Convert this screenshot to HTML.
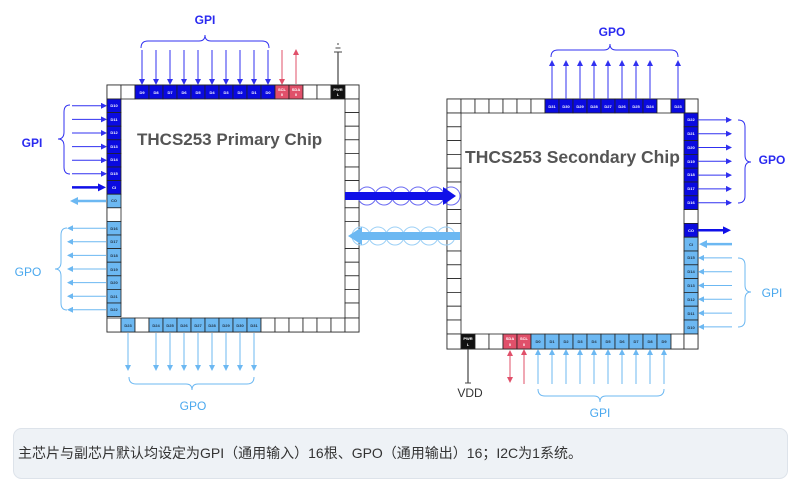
<!DOCTYPE html>
<html><head><meta charset="utf-8"><style>
html,body{margin:0;padding:0;background:#fff;width:800px;height:488px;overflow:hidden}
svg{display:block}
.c{stroke:#222;stroke-width:0.8}
.t{font-family:"Liberation Sans",sans-serif;font-size:4px;fill:#fff;text-anchor:middle;font-weight:bold}
.tk{font-family:"Liberation Sans",sans-serif;font-size:4px;fill:#234;text-anchor:middle;font-weight:bold}
.lbl{font-family:"Liberation Sans",sans-serif;font-size:12px;text-anchor:middle}
</style></head><body>
<svg width="800" height="488" viewBox="0 0 800 488" xmlns="http://www.w3.org/2000/svg">
<defs>
<marker id="ab" markerWidth="6" markerHeight="6" refX="5" refY="3" orient="auto" markerUnits="userSpaceOnUse"><path d="M0,0 L6,3 L0,6z" fill="#3030f0"/></marker>
<marker id="al" markerWidth="6" markerHeight="6" refX="5" refY="3" orient="auto" markerUnits="userSpaceOnUse"><path d="M0,0 L6,3 L0,6z" fill="#6cb8f2"/></marker>
<marker id="ar" markerWidth="6" markerHeight="6" refX="5" refY="3" orient="auto" markerUnits="userSpaceOnUse"><path d="M0,0 L6,3 L0,6z" fill="#e0506a"/></marker>
<marker id="abB" markerWidth="8" markerHeight="8" refX="4" refY="4" orient="auto" markerUnits="userSpaceOnUse"><path d="M0,0 L8,4 L0,8z" fill="#1010e8"/></marker>
<marker id="alB" markerWidth="8" markerHeight="8" refX="4" refY="4" orient="auto" markerUnits="userSpaceOnUse"><path d="M0,0 L8,4 L0,8z" fill="#6cb8f2"/></marker>
</defs>

<!-- ============ PRIMARY CHIP ============ -->
<rect x="107" y="85" width="252" height="247" fill="#fff" stroke="#444" stroke-width="1"/>
<!-- top row -->
<g class="c">
<rect x="107" y="85" width="14" height="14" fill="#fff"/><rect x="121" y="85" width="14" height="14" fill="#fff"/>
<rect x="135" y="85" width="14" height="14" fill="#0a0ae0"/><rect x="149" y="85" width="14" height="14" fill="#0a0ae0"/>
<rect x="163" y="85" width="14" height="14" fill="#0a0ae0"/><rect x="177" y="85" width="14" height="14" fill="#0a0ae0"/>
<rect x="191" y="85" width="14" height="14" fill="#0a0ae0"/><rect x="205" y="85" width="14" height="14" fill="#0a0ae0"/>
<rect x="219" y="85" width="14" height="14" fill="#0a0ae0"/><rect x="233" y="85" width="14" height="14" fill="#0a0ae0"/>
<rect x="247" y="85" width="14" height="14" fill="#0a0ae0"/><rect x="261" y="85" width="14" height="14" fill="#0a0ae0"/>
<rect x="275" y="85" width="14" height="14" fill="#e0506a"/><rect x="289" y="85" width="14" height="14" fill="#e0506a"/>
<rect x="303" y="85" width="14" height="14" fill="#fff"/><rect x="317" y="85" width="14" height="14" fill="#fff"/>
<rect x="331" y="85" width="14" height="14" fill="#111"/><rect x="345" y="85" width="14" height="14" fill="#fff"/>
</g>
<g class="t">
<text x="142" y="94">D9</text><text x="156" y="94">D8</text><text x="170" y="94">D7</text><text x="184" y="94">D6</text><text x="198" y="94">D5</text><text x="212" y="94">D4</text><text x="226" y="94">D3</text><text x="240" y="94">D2</text><text x="254" y="94">D1</text><text x="268" y="94">D0</text>
<text x="282" y="91">SCL</text><text x="282" y="96">0</text><text x="296" y="91">SDA</text><text x="296" y="96">0</text><text x="338" y="91">PWR</text><text x="338" y="96">L</text>
</g>
<!-- left column -->
<g class="c">
<rect x="107" y="99" width="14" height="13.6" fill="#0a0ae0"/><rect x="107" y="112.6" width="14" height="13.6" fill="#0a0ae0"/>
<rect x="107" y="126.2" width="14" height="13.6" fill="#0a0ae0"/><rect x="107" y="139.8" width="14" height="13.6" fill="#0a0ae0"/>
<rect x="107" y="153.4" width="14" height="13.6" fill="#0a0ae0"/><rect x="107" y="167" width="14" height="13.6" fill="#0a0ae0"/>
<rect x="107" y="180.6" width="14" height="13.6" fill="#0a0ae0"/><rect x="107" y="194.2" width="14" height="13.6" fill="#6cb8f2"/>
<rect x="107" y="207.8" width="14" height="13.6" fill="#fff"/>
<rect x="107" y="221.4" width="14" height="13.6" fill="#6cb8f2"/><rect x="107" y="235" width="14" height="13.6" fill="#6cb8f2"/>
<rect x="107" y="248.6" width="14" height="13.6" fill="#6cb8f2"/><rect x="107" y="262.2" width="14" height="13.6" fill="#6cb8f2"/>
<rect x="107" y="275.8" width="14" height="13.6" fill="#6cb8f2"/><rect x="107" y="289.4" width="14" height="13.6" fill="#6cb8f2"/>
<rect x="107" y="303" width="14" height="13.6" fill="#6cb8f2"/>
</g>
<g class="t">
<text x="114" y="107">D10</text><text x="114" y="121">D11</text><text x="114" y="134">D12</text><text x="114" y="148">D13</text><text x="114" y="161">D14</text><text x="114" y="175">D15</text><text x="114" y="189">CI</text>
</g>
<g class="tk">
<text x="114" y="202">CO</text><text x="114" y="230">D16</text><text x="114" y="243">D17</text><text x="114" y="257">D18</text><text x="114" y="271">D19</text><text x="114" y="284">D20</text><text x="114" y="298">D21</text><text x="114" y="311">D22</text>
</g>
<!-- right column -->
<g class="c" fill="#fff">
<rect x="345" y="99" width="14" height="13.6"/><rect x="345" y="112.6" width="14" height="13.6"/><rect x="345" y="126.2" width="14" height="13.6"/><rect x="345" y="139.8" width="14" height="13.6"/><rect x="345" y="153.4" width="14" height="13.6"/><rect x="345" y="167" width="14" height="13.6"/><rect x="345" y="180.6" width="14" height="27.2"/><rect x="345" y="207.8" width="14" height="13.6"/><rect x="345" y="221.4" width="14" height="27.2"/><rect x="345" y="248.6" width="14" height="13.6"/><rect x="345" y="262.2" width="14" height="13.6"/><rect x="345" y="275.8" width="14" height="13.6"/><rect x="345" y="289.4" width="14" height="13.6"/><rect x="345" y="303" width="14" height="15"/>
</g>
<!-- bottom row -->
<g class="c">
<rect x="107" y="318" width="14" height="14" fill="#fff"/><rect x="121" y="318" width="14" height="14" fill="#6cb8f2"/><rect x="135" y="318" width="14" height="14" fill="#fff"/>
<rect x="149" y="318" width="14" height="14" fill="#6cb8f2"/><rect x="163" y="318" width="14" height="14" fill="#6cb8f2"/><rect x="177" y="318" width="14" height="14" fill="#6cb8f2"/><rect x="191" y="318" width="14" height="14" fill="#6cb8f2"/><rect x="205" y="318" width="14" height="14" fill="#6cb8f2"/><rect x="219" y="318" width="14" height="14" fill="#6cb8f2"/><rect x="233" y="318" width="14" height="14" fill="#6cb8f2"/><rect x="247" y="318" width="14" height="14" fill="#6cb8f2"/>
<rect x="261" y="318" width="14" height="14" fill="#fff"/><rect x="275" y="318" width="14" height="14" fill="#fff"/><rect x="289" y="318" width="14" height="14" fill="#fff"/><rect x="303" y="318" width="14" height="14" fill="#fff"/><rect x="317" y="318" width="14" height="14" fill="#fff"/><rect x="331" y="318" width="14" height="14" fill="#fff"/><rect x="345" y="318" width="14" height="14" fill="#fff"/>
</g>
<g class="tk">
<text x="128" y="327">D23</text><text x="156" y="327">D24</text><text x="170" y="327">D25</text><text x="184" y="327">D26</text><text x="198" y="327">D27</text><text x="212" y="327">D28</text><text x="226" y="327">D29</text><text x="240" y="327">D30</text><text x="254" y="327">D31</text>
</g>
<text x="137" y="145" font-family="Liberation Sans, sans-serif" font-weight="bold" font-size="17" fill="#555">THCS253 Primary Chip</text>

<!-- primary top arrows -->
<g stroke="#3030f0" stroke-width="1" marker-end="url(#ab)">
<line x1="142" y1="50" x2="142" y2="84"/><line x1="156" y1="50" x2="156" y2="84"/><line x1="170" y1="50" x2="170" y2="84"/><line x1="184" y1="50" x2="184" y2="84"/><line x1="198" y1="50" x2="198" y2="84"/><line x1="212" y1="50" x2="212" y2="84"/><line x1="226" y1="50" x2="226" y2="84"/><line x1="240" y1="50" x2="240" y2="84"/><line x1="254" y1="50" x2="254" y2="84"/><line x1="268" y1="50" x2="268" y2="84"/>
</g>
<path d="M141,48 q0,-7 7,-7 H199 q6,0 6,-6 q0,6 6,6 H262 q7,0 7,7" fill="none" stroke="#3030f0" stroke-width="1"/>
<text x="205" y="24" class="lbl" fill="#2a2af0" font-weight="bold" font-size="11">GPI</text>
<line x1="282" y1="50" x2="282" y2="84" stroke="#e0506a" marker-end="url(#ar)"/>
<line x1="296" y1="84" x2="296" y2="50" stroke="#e0506a" marker-end="url(#ar)"/>
<line x1="338" y1="52" x2="338" y2="85" stroke="#444" stroke-width="1.2"/>
<line x1="334" y1="52" x2="342" y2="52" stroke="#444"/><line x1="335.5" y1="48" x2="340.5" y2="48" stroke="#444"/><line x1="337" y1="44" x2="339" y2="44" stroke="#444"/>

<!-- primary left arrows -->
<g stroke="#3030f0" stroke-width="1" marker-end="url(#ab)">
<line x1="72" y1="105.8" x2="106" y2="105.8"/><line x1="72" y1="119.4" x2="106" y2="119.4"/><line x1="72" y1="133" x2="106" y2="133"/><line x1="72" y1="146.6" x2="106" y2="146.6"/><line x1="72" y1="160.2" x2="106" y2="160.2"/><line x1="72" y1="173.8" x2="106" y2="173.8"/>
</g>
<line x1="72" y1="187.4" x2="102" y2="187.4" stroke="#1010e8" stroke-width="2.5" marker-end="url(#abB)"/>
<line x1="106" y1="201" x2="74" y2="201" stroke="#6cb8f2" stroke-width="2.5" marker-end="url(#alB)"/>
<path d="M70,105 q-6,0 -6,7 V132 q0,7 -6,7 q6,0 6,7 V167 q0,7 6,7" fill="none" stroke="#3030f0"/>
<text x="32" y="147" class="lbl" fill="#2a2af0" font-weight="bold" font-size="11">GPI</text>
<g stroke="#6cb8f2" stroke-width="1" marker-end="url(#al)">
<line x1="106" y1="228.2" x2="68" y2="228.2"/><line x1="106" y1="241.8" x2="68" y2="241.8"/><line x1="106" y1="255.4" x2="68" y2="255.4"/><line x1="106" y1="269" x2="68" y2="269"/><line x1="106" y1="282.6" x2="68" y2="282.6"/><line x1="106" y1="296.2" x2="68" y2="296.2"/><line x1="106" y1="309.8" x2="68" y2="309.8"/>
</g>
<path d="M67,228 q-6,0 -6,7 V262 q0,7 -6,7 q6,0 6,7 V303 q0,7 6,7" fill="none" stroke="#6cb8f2"/>
<text x="28" y="276" class="lbl" fill="#4aa8ee" font-size="11">GPO</text>

<!-- primary bottom arrows -->
<g stroke="#6cb8f2" stroke-width="1" marker-end="url(#al)">
<line x1="128" y1="333" x2="128" y2="370"/><line x1="156" y1="333" x2="156" y2="370"/><line x1="170" y1="333" x2="170" y2="370"/><line x1="184" y1="333" x2="184" y2="370"/><line x1="198" y1="333" x2="198" y2="370"/><line x1="212" y1="333" x2="212" y2="370"/><line x1="226" y1="333" x2="226" y2="370"/><line x1="240" y1="333" x2="240" y2="370"/><line x1="254" y1="333" x2="254" y2="370"/>
</g>
<path d="M129,377 q0,7 7,7 H186 q6,0 6,6 q0,-6 6,-6 H247 q7,0 7,-7" fill="none" stroke="#6cb8f2"/>
<text x="193" y="410" class="lbl" fill="#4aa8ee" font-size="11">GPO</text>

<!-- ============ SECONDARY CHIP ============ -->
<rect x="447" y="99" width="251" height="250" fill="#fff" stroke="#444" stroke-width="1"/>
<g class="c">
<rect x="447" y="99" width="14" height="14" fill="#fff"/><rect x="461" y="99" width="14" height="14" fill="#fff"/><rect x="475" y="99" width="14" height="14" fill="#fff"/><rect x="489" y="99" width="14" height="14" fill="#fff"/><rect x="503" y="99" width="14" height="14" fill="#fff"/><rect x="517" y="99" width="14" height="14" fill="#fff"/><rect x="531" y="99" width="14" height="14" fill="#fff"/>
<rect x="545" y="99" width="14" height="14" fill="#0a0ae0"/><rect x="559" y="99" width="14" height="14" fill="#0a0ae0"/><rect x="573" y="99" width="14" height="14" fill="#0a0ae0"/><rect x="587" y="99" width="14" height="14" fill="#0a0ae0"/><rect x="601" y="99" width="14" height="14" fill="#0a0ae0"/><rect x="615" y="99" width="14" height="14" fill="#0a0ae0"/><rect x="629" y="99" width="14" height="14" fill="#0a0ae0"/><rect x="643" y="99" width="14" height="14" fill="#0a0ae0"/>
<rect x="657" y="99" width="14" height="14" fill="#fff"/><rect x="671" y="99" width="14" height="14" fill="#0a0ae0"/><rect x="685" y="99" width="13" height="14" fill="#fff"/>
</g>
<g class="t">
<text x="552" y="108">D31</text><text x="566" y="108">D30</text><text x="580" y="108">D29</text><text x="594" y="108">D28</text><text x="608" y="108">D27</text><text x="622" y="108">D26</text><text x="636" y="108">D25</text><text x="650" y="108">D24</text><text x="678" y="108">D23</text>
</g>
<!-- right column -->
<g class="c">
<rect x="684" y="113" width="14" height="13.8" fill="#0a0ae0"/><rect x="684" y="126.8" width="14" height="13.8" fill="#0a0ae0"/><rect x="684" y="140.6" width="14" height="13.8" fill="#0a0ae0"/><rect x="684" y="154.4" width="14" height="13.8" fill="#0a0ae0"/><rect x="684" y="168.2" width="14" height="13.8" fill="#0a0ae0"/><rect x="684" y="182" width="14" height="13.8" fill="#0a0ae0"/><rect x="684" y="195.8" width="14" height="13.8" fill="#0a0ae0"/>
<rect x="684" y="209.6" width="14" height="13.8" fill="#fff"/>
<rect x="684" y="223.4" width="14" height="13.8" fill="#0a0ae0"/>
<rect x="684" y="237.2" width="14" height="13.8" fill="#6cb8f2"/><rect x="684" y="251" width="14" height="13.8" fill="#6cb8f2"/><rect x="684" y="264.8" width="14" height="13.8" fill="#6cb8f2"/><rect x="684" y="278.6" width="14" height="13.8" fill="#6cb8f2"/><rect x="684" y="292.4" width="14" height="13.8" fill="#6cb8f2"/><rect x="684" y="306.2" width="14" height="13.8" fill="#6cb8f2"/><rect x="684" y="320" width="14" height="14" fill="#6cb8f2"/>
</g>
<g class="t">
<text x="691" y="121">D22</text><text x="691" y="135">D21</text><text x="691" y="149">D20</text><text x="691" y="163">D19</text><text x="691" y="176">D18</text><text x="691" y="190">D17</text><text x="691" y="204">D16</text><text x="691" y="232">CO</text>
</g>
<g class="tk">
<text x="691" y="246">CI</text><text x="691" y="259">D15</text><text x="691" y="273">D14</text><text x="691" y="287">D13</text><text x="691" y="301">D12</text><text x="691" y="315">D11</text><text x="691" y="329">D10</text>
</g>
<!-- left column -->
<g class="c" fill="#fff">
<rect x="447" y="113" width="14" height="13.8"/><rect x="447" y="126.8" width="14" height="13.8"/><rect x="447" y="140.6" width="14" height="13.8"/><rect x="447" y="154.4" width="14" height="13.8"/><rect x="447" y="168.2" width="14" height="13.8"/><rect x="447" y="182" width="14" height="27.6"/><rect x="447" y="209.6" width="14" height="13.8"/><rect x="447" y="223.4" width="14" height="27.6"/><rect x="447" y="251" width="14" height="13.8"/><rect x="447" y="264.8" width="14" height="13.8"/><rect x="447" y="278.6" width="14" height="13.8"/><rect x="447" y="292.4" width="14" height="13.8"/><rect x="447" y="306.2" width="14" height="13.8"/><rect x="447" y="320" width="14" height="14"/>
</g>
<!-- bottom row -->
<g class="c">
<rect x="447" y="334" width="14" height="15" fill="#fff"/><rect x="461" y="334" width="14" height="15" fill="#111"/><rect x="475" y="334" width="14" height="15" fill="#fff"/><rect x="489" y="334" width="14" height="15" fill="#fff"/>
<rect x="503" y="334" width="14" height="15" fill="#e0506a"/><rect x="517" y="334" width="14" height="15" fill="#e0506a"/>
<rect x="531" y="334" width="14" height="15" fill="#6cb8f2"/><rect x="545" y="334" width="14" height="15" fill="#6cb8f2"/><rect x="559" y="334" width="14" height="15" fill="#6cb8f2"/><rect x="573" y="334" width="14" height="15" fill="#6cb8f2"/><rect x="587" y="334" width="14" height="15" fill="#6cb8f2"/><rect x="601" y="334" width="14" height="15" fill="#6cb8f2"/><rect x="615" y="334" width="14" height="15" fill="#6cb8f2"/><rect x="629" y="334" width="14" height="15" fill="#6cb8f2"/><rect x="643" y="334" width="14" height="15" fill="#6cb8f2"/><rect x="657" y="334" width="14" height="15" fill="#6cb8f2"/>
<rect x="671" y="334" width="13" height="15" fill="#fff"/><rect x="684" y="334" width="14" height="15" fill="#fff"/>
</g>
<g class="t"><text x="468" y="340">PWR</text><text x="468" y="346">L</text><text x="510" y="340">SDA</text><text x="510" y="346">0</text><text x="524" y="340">SCL</text><text x="524" y="346">0</text></g>
<g class="tk">
<text x="538" y="343">D0</text><text x="552" y="343">D1</text><text x="566" y="343">D2</text><text x="580" y="343">D3</text><text x="594" y="343">D4</text><text x="608" y="343">D5</text><text x="622" y="343">D6</text><text x="636" y="343">D7</text><text x="650" y="343">D8</text><text x="664" y="343">D9</text>
</g>
<text x="465" y="163" font-family="Liberation Sans, sans-serif" font-weight="bold" font-size="17.5" fill="#555">THCS253 Secondary Chip</text>

<!-- secondary top arrows -->
<g stroke="#3030f0" stroke-width="1" marker-end="url(#ab)">
<line x1="552" y1="99" x2="552" y2="61"/><line x1="566" y1="99" x2="566" y2="61"/><line x1="580" y1="99" x2="580" y2="61"/><line x1="594" y1="99" x2="594" y2="61"/><line x1="608" y1="99" x2="608" y2="61"/><line x1="622" y1="99" x2="622" y2="61"/><line x1="636" y1="99" x2="636" y2="61"/><line x1="650" y1="99" x2="650" y2="61"/><line x1="678" y1="99" x2="678" y2="61"/>
</g>
<path d="M551,57 q0,-7 7,-7 H604 q6,0 6,-6 q0,6 6,6 H671 q7,0 7,7" fill="none" stroke="#3030f0"/>
<text x="612" y="36" class="lbl" fill="#2a2af0" font-weight="bold" font-size="11">GPO</text>
<!-- secondary right arrows -->
<g stroke="#3030f0" stroke-width="1" marker-end="url(#ab)">
<line x1="698" y1="119.9" x2="731" y2="119.9"/><line x1="698" y1="133.7" x2="731" y2="133.7"/><line x1="698" y1="147.5" x2="731" y2="147.5"/><line x1="698" y1="161.3" x2="731" y2="161.3"/><line x1="698" y1="175.1" x2="731" y2="175.1"/><line x1="698" y1="188.9" x2="731" y2="188.9"/><line x1="698" y1="202.7" x2="731" y2="202.7"/>
</g>
<path d="M738,120 q7,0 7,7 V155 q0,7 6,7 q-6,0 -6,7 V196 q0,7 -7,7" fill="none" stroke="#3030f0"/>
<text x="772" y="164" class="lbl" fill="#2a2af0" font-weight="bold" font-size="11">GPO</text>
<line x1="698" y1="230.3" x2="727" y2="230.3" stroke="#1010e8" stroke-width="2.5" marker-end="url(#abB)"/>
<line x1="732" y1="244.1" x2="703" y2="244.1" stroke="#6cb8f2" stroke-width="2.5" marker-end="url(#alB)"/>
<g stroke="#6cb8f2" stroke-width="1" marker-end="url(#al)">
<line x1="732" y1="257.9" x2="699" y2="257.9"/><line x1="732" y1="271.7" x2="699" y2="271.7"/><line x1="732" y1="285.5" x2="699" y2="285.5"/><line x1="732" y1="299.3" x2="699" y2="299.3"/><line x1="732" y1="313.1" x2="699" y2="313.1"/><line x1="732" y1="326.9" x2="699" y2="326.9"/>
</g>
<path d="M738,258 q7,0 7,7 V285 q0,7 6,7 q-6,0 -6,7 V320 q0,7 -7,7" fill="none" stroke="#6cb8f2"/>
<text x="772" y="297" class="lbl" fill="#4aa8ee" font-size="11">GPI</text>
<!-- secondary bottom -->
<g stroke="#6cb8f2" stroke-width="1" marker-end="url(#al)">
<line x1="538" y1="384" x2="538" y2="350"/><line x1="552" y1="384" x2="552" y2="350"/><line x1="566" y1="384" x2="566" y2="350"/><line x1="580" y1="384" x2="580" y2="350"/><line x1="594" y1="384" x2="594" y2="350"/><line x1="608" y1="384" x2="608" y2="350"/><line x1="622" y1="384" x2="622" y2="350"/><line x1="636" y1="384" x2="636" y2="350"/><line x1="650" y1="384" x2="650" y2="350"/><line x1="664" y1="384" x2="664" y2="350"/>
</g>
<path d="M538,389 q0,7 7,7 H594 q6,0 6,6 q0,-6 6,-6 H657 q7,0 7,-7" fill="none" stroke="#6cb8f2"/>
<text x="600" y="417" class="lbl" fill="#4aa8ee" font-size="11">GPI</text>
<line x1="510" y1="356" x2="510" y2="377" stroke="#e0506a"/>
<path d="M510,350 l-3,6 h6z M510,383 l-3,-6 h6z" fill="#e0506a"/>
<line x1="524" y1="384" x2="524" y2="350" stroke="#e0506a" marker-end="url(#ar)"/>
<line x1="468" y1="349" x2="468" y2="383" stroke="#444" stroke-width="1.2"/>
<line x1="465" y1="383" x2="471" y2="383" stroke="#444"/>
<text x="470" y="397" class="lbl" fill="#333" font-size="11">VDD</text>

<!-- ============ BUS ============ -->
<g fill="none" stroke="#6a6af2" stroke-width="1">
<circle cx="367" cy="196" r="9"/><circle cx="384" cy="196" r="9"/><circle cx="401" cy="196" r="9"/><circle cx="418" cy="196" r="9"/><circle cx="435" cy="196" r="9"/><circle cx="451" cy="196" r="9"/>
</g>
<g fill="none" stroke="#9cd0f6" stroke-width="1">
<circle cx="361" cy="236" r="9"/><circle cx="378" cy="236" r="9"/><circle cx="395" cy="236" r="9"/><circle cx="412" cy="236" r="9"/><circle cx="429" cy="236" r="9"/><circle cx="446" cy="236" r="9"/>
</g>
<rect x="345" y="192" width="100" height="8" fill="#1010e8"/>
<path d="M443,187 L456,196 L443,205z" fill="#1010e8"/>
<rect x="360" y="232" width="100" height="8" fill="#6cb8f2"/>
<path d="M362,227 L348,236 L362,245z" fill="#6cb8f2"/>

<!-- caption -->
<rect x="13.5" y="428.5" width="774" height="50" rx="8" fill="#eef2f6" stroke="#dde3ea"/>
<text x="18" y="458" font-family="Liberation Sans, Noto Sans CJK SC, sans-serif" font-size="14" fill="#333">主芯片与副芯片默认均设定为GPI（通用输入）16根、GPO（通用输出）16；I2C为1系统。</text>
</svg>
</body></html>
